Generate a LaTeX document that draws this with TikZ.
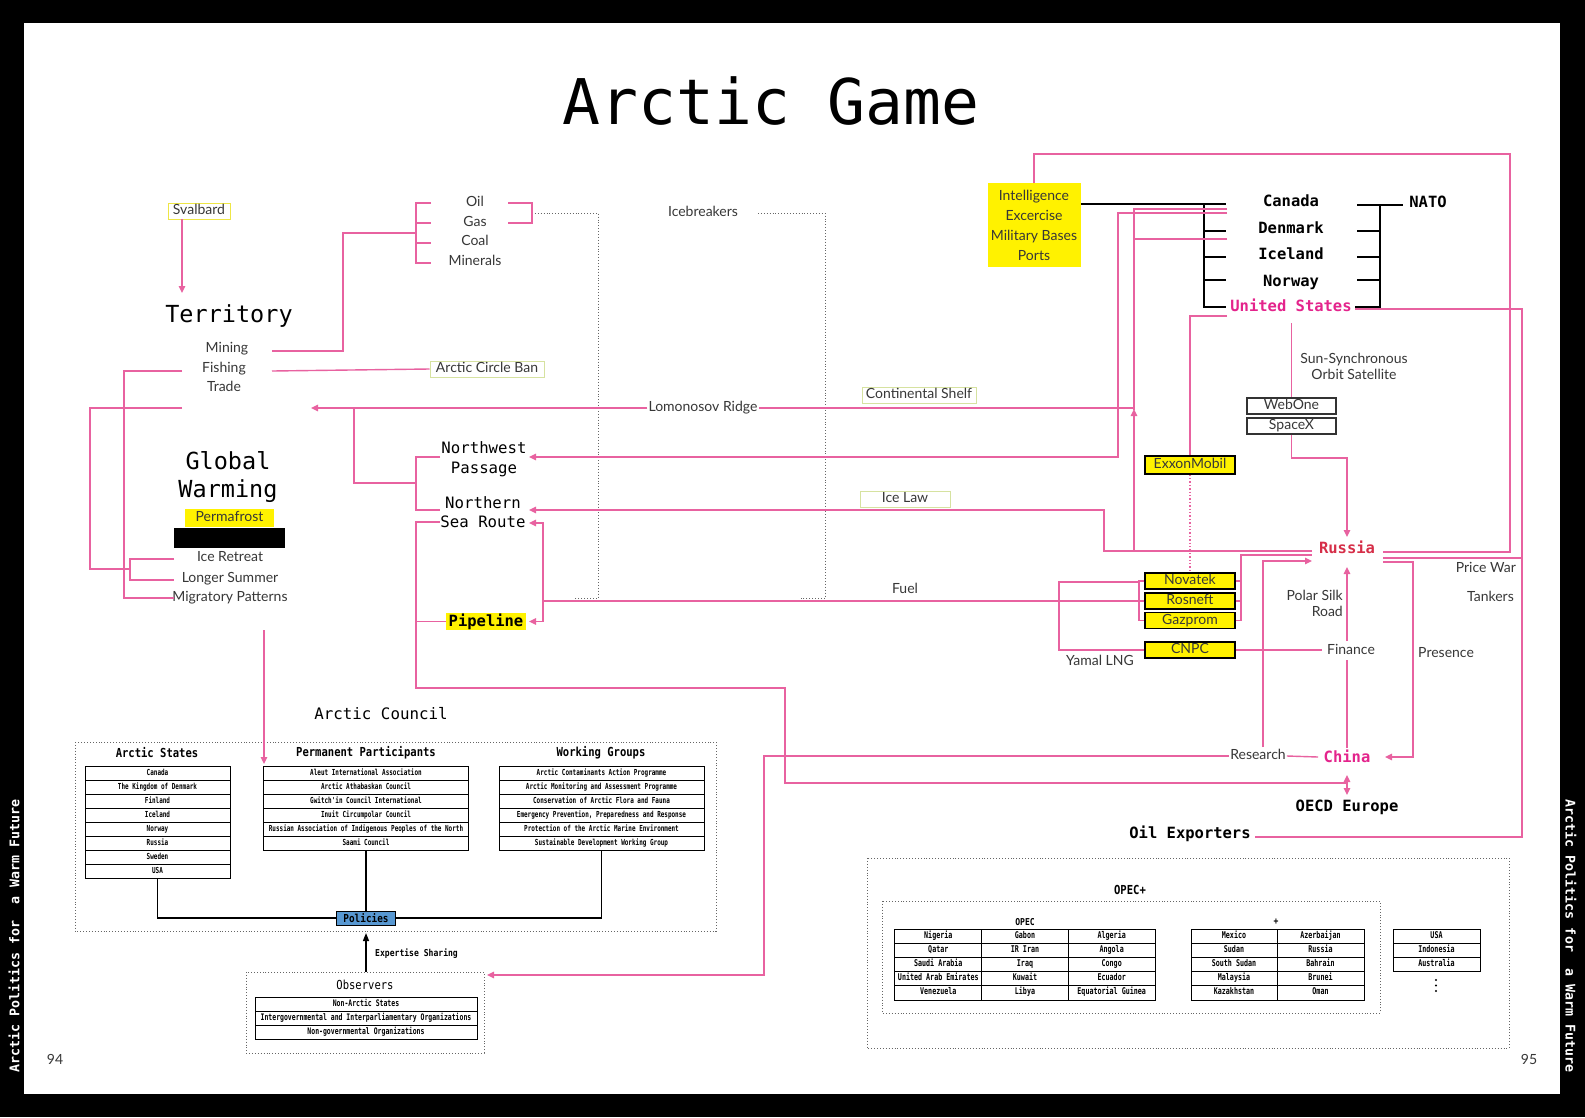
\documentclass[tikz,border=0pt]{standalone}
\usepackage{fontspec}
\newfontfamily\mono{DejaVu Sans Mono}
\newfontfamily\cmono[FakeStretch=0.72]{DejaVu Sans Mono}
\newfontfamily\hmono[FakeStretch=0.85]{DejaVu Sans Mono}
\newfontfamily\lato{Lato}
\usetikzlibrary{arrows.meta}
\definecolor{pk}{RGB}{232,98,160}
\definecolor{ylw}{RGB}{255,242,0}
\definecolor{ybord}{RGB}{238,230,70}
\definecolor{gbord}{RGB}{214,226,160}
\definecolor{txt}{RGB}{55,55,55}
\definecolor{rus}{RGB}{214,46,72}
\definecolor{mag}{RGB}{228,36,140}
\definecolor{pol}{RGB}{88,152,210}
\tikzset{
  pl/.style={draw=pk,line width=1.4pt},
  tipp/.style={-{Triangle[length=7pt,width=6.5pt]}},
  blk/.style={draw=black,line width=1.4pt},
  dotl/.style={draw=gray!80!black,dotted,line width=0.9pt},
  lbl/.style={font=\lato\fontsize{14}{16}\selectfont,text=txt,inner sep=1pt,text height=10.5,text depth=3.5},
  lblm/.style={font=\lato\fontsize{14}{16}\selectfont,text=txt,inner sep=1pt},
  cty/.style={font=\mono\bfseries\fontsize{15.5}{18}\selectfont,inner sep=1pt,text height=11.5,text depth=3},
  bigtxt/.style={font=\mono\fontsize{23.5}{28}\selectfont,align=center,inner sep=0pt},
  ybox/.style={lbl,fill=ylw,draw=black,line width=1.3pt,minimum width=90,minimum height=16,inner sep=0pt},
  tagbox/.style={lbl,draw=gbord,line width=1pt,minimum height=16,inner sep=0pt},
  wbox/.style={lbl,draw=black!80,line width=1.4pt,minimum width=89,minimum height=16,inner sep=0pt},
  tcell/.style={draw,line width=1pt,minimum height=14,inner sep=0pt,text height=6,text depth=2,font=\cmono\bfseries\fontsize{8.3}{9}\selectfont},
  ocell/.style={tcell,minimum height=14.2,font=\cmono\bfseries\fontsize{9.3}{10}\selectfont},
  hdr/.style={font=\hmono\bfseries\fontsize{12.4}{14}\selectfont,inner sep=0pt},
  smalltxt/.style={font=\hmono\bfseries\fontsize{9.5}{11}\selectfont,inner sep=0pt},
  dbox/.style={draw=gray!80!black,dotted,line width=0.9pt},
  sidetxt/.style={font=\mono\bfseries\fontsize{13.3}{15}\selectfont,text=white}
}
\begin{document}
\begin{tikzpicture}[x=1pt,y=-1pt]
\useasboundingbox (0,0) rectangle (1585,1117);
\fill[black] (0,0) rectangle (1585,1117);
\fill[white] (24,23) rectangle (1560,1094);

% ---------- title and side texts
\node[font=\mono\fontsize{63}{70}\selectfont,inner sep=0] (title) at (771,101) {Arctic Game};
\node[sidetxt,rotate=90] (sideL) at (14,936) {Arctic Politics for\ \ a Warm Future};
\node[sidetxt,rotate=-90] (sideR) at (1571,936) {Arctic Politics for\ \ a Warm Future};
\node[lbl] (p94) at (55,1061) {94};
\node[lbl] (p95) at (1529,1061) {95};

% ---------- left column
\node[lbl,draw=ybord,line width=1pt,minimum width=62,minimum height=16,inner sep=0] (svalbard) at (199,211) {Svalbard};
\node[bigtxt] (territory) at (229,316) {Territory};
\node[lbl] (mining) at (227,349) {Mining};
\node[lbl] (fishing) at (224,369) {Fishing};
\node[lbl] (trade) at (224,388) {Trade};
\node[bigtxt] (gw) at (228,477) {Global\\Warming};
\node[lbl,fill=ylw,minimum width=89,minimum height=18,inner sep=0] (permafrost) at (229.5,518) {Permafrost};
\node[fill=black,minimum width=111,minimum height=20,inner sep=0] (blackbar) at (229.5,538) {};
\node[lbl] (iceretreat) at (230,558) {Ice Retreat};
\node[lbl] (longersummer) at (230,579) {Longer Summer};
\node[lbl] (migratory) at (230,598) {Migratory Patterns};

\node[lbl] (oil) at (475,203) {Oil};
\node[lbl] (gas) at (475,223) {Gas};
\node[lbl] (coal) at (475,242) {Coal};
\node[lbl] (minerals) at (475,262) {Minerals};
\node[lbl] (icebreakers) at (703,213) {Icebreakers};

\node[tagbox,minimum width=114] (arcticban) at (487,369) {Arctic Circle Ban};
\node[lbl] (lomo) at (703,408) {Lomonosov Ridge};
\node[tagbox,minimum width=114] (contshelf) at (919,395) {Continental Shelf};
\node[tagbox,minimum width=90] (icelaw) at (905,499) {Ice Law};
\node[lbl] (fuel) at (905,590) {Fuel};

\node[font=\mono\fontsize{15.7}{20}\selectfont,align=center,inner sep=0] (nwp) at (484,459) {Northwest\\Passage};
\node[font=\mono\fontsize{15.7}{19}\selectfont,align=center,inner sep=0] (nsr) at (483,512) {Northern\\Sea Route};
\node[fill=ylw,font=\mono\bfseries\fontsize{15.5}{18}\selectfont,minimum width=80,minimum height=17,inner sep=0] (pipeline) at (486,621.5) {Pipeline};

% ---------- right part
\node[fill=ylw,minimum width=93,minimum height=84,inner sep=0,align=center,font=\lato\fontsize{14}{20}\selectfont,text=txt] (intel) at (1034,225) {Intelligence\\Excercise\\Military Bases\\Ports};
\node[cty] (canada) at (1291,202) {Canada};
\node[cty] (denmark) at (1291,229) {Denmark};
\node[cty] (iceland) at (1291,255) {Iceland};
\node[cty] (norway) at (1291,282) {Norway};
\node[cty,text=mag] (us) at (1291,307) {United States};
\node[cty] (nato) at (1428,203) {NATO};

\node[lblm,align=center] (sunsync) at (1354,366) {Sun-Synchronous\\Orbit Satellite};
\node[wbox] (webone) at (1291.5,406) {WebOne};
\node[wbox] (spacex) at (1291.5,426) {SpaceX};
\node[ybox,minimum height=18] (exxon) at (1190,465) {ExxonMobil};
\node[ybox] (novatek) at (1190,581) {Novatek};
\node[ybox] (rosneft) at (1190,601) {Rosneft};
\node[ybox] (gazprom) at (1190,620.5) {Gazprom};
\node[ybox] (cnpc) at (1190,650) {CNPC};
\node[lbl] (yamal) at (1100,662) {Yamal LNG};

\node[cty,text=rus] (russia) at (1347,549) {Russia};
\node[cty,text=mag] (china) at (1347,758) {China};
\node[cty] (oecd) at (1347,807) {OECD Europe};
\node[cty] (oilexp) at (1190,834) {Oil Exporters};
\node[lbl,anchor=east] (pricewar) at (1517,569) {Price War};
\node[lbl,anchor=east] (tankers) at (1515,598) {Tankers};
\node[lblm,anchor=east,align=right] (polarsilk) at (1344,603) {Polar Silk\\Road};
\node[lbl] (finance) at (1351,651) {Finance};
\node[lbl,anchor=west] (presence) at (1417,654) {Presence};
\node[lbl] (research) at (1258,756) {Research};

% ---------- Arctic Council
\node[font=\mono\fontsize{15.8}{18}\selectfont,inner sep=0] (council) at (381,714) {Arctic Council};
\draw[dbox] (75,742) rectangle (716,931);
\node[hdr] (hAS) at (157,753) {Arctic States};
\node[hdr] (hPP) at (366,753) {Permanent Participants};
\node[hdr] (hWG) at (601,753) {Working Groups};
\foreach \t [count=\i from 0] in {Canada,The Kingdom of Denmark,Finland,Iceland,Norway,Russia,Sweden,USA}
  \node[tcell,minimum width=145] (as\i) at (157.5,{773+14*\i}) {\t};
\foreach \t [count=\i from 0] in {Aleut International Association,Arctic Athabaskan Council,Gwitch'in Council International,Inuit Circumpolar Council,Russian Association of Indigenous Peoples of the North,Saami Council}
  \node[tcell,minimum width=205] (pp\i) at (366,{773+14*\i}) {\t};
\foreach \t [count=\i from 0] in {Arctic Contaminants Action Programme,Arctic Monitoring and Assessment Programme,Conservation of Arctic Flora and Fauna,{Emergency Prevention, Preparedness and Response},Protection of the Arctic Marine Environment,Sustainable Development Working Group}
  \node[tcell,minimum width=205] (wg\i) at (601.5,{773+14*\i}) {\t};
\node[fill=pol,draw=black,line width=1pt,minimum width=59,minimum height=14,inner sep=0,font=\hmono\bfseries\fontsize{11}{12}\selectfont] (policies) at (366,918) {Policies};
\draw[blk] (as7.south) |- (policies.west);
\draw[blk] (pp5.south) -- (policies.north);
\draw[blk] (wg5.south) |- (policies.east);

% ---------- Observers
\draw[dbox] (246,972) rectangle (484,1053);
\node[hdr,font=\hmono\fontsize{12.4}{14}\selectfont] (obs) at (365,985) {Observers};
\foreach \t [count=\i from 0] in {Non-Arctic States,Intergovernmental and Interparliamentary Organizations,Non-governmental Organizations}
  \node[tcell,minimum width=222,font=\cmono\bfseries\fontsize{9}{10}\selectfont] (ob\i) at (366,{1004+14*\i}) {\t};
\node[smalltxt,anchor=west] (expert) at (375,954) {Expertise Sharing};
\draw[blk,-{Triangle[length=8pt,width=6pt]}] (366,972) -- (366,933);

% ---------- Oil exporters
\draw[dbox] (867,858) rectangle (1509,1048);
\node[hdr] (opecplus) at (1130,890) {OPEC+};
\draw[dbox] (882,901) rectangle (1380,1013);
\node[smalltxt] (opec) at (1025,922) {OPEC};
\node[smalltxt] (plus) at (1276,922) {+};
\foreach \a/\b/\c [count=\i from 0] in {Nigeria/Gabon/Algeria,Qatar/IR Iran/Angola,Saudi Arabia/Iraq/Congo,United Arab Emirates/Kuwait/Ecuador,Venezuela/Libya/Equatorial Guinea}{
  \node[ocell,minimum width=86.7] (opa\i) at (938.3,{936.1+14.2*\i}) {\a};
  \node[ocell,minimum width=86.7] (opb\i) at (1025,{936.1+14.2*\i}) {\b};
  \node[ocell,minimum width=86.7] (opc\i) at (1111.7,{936.1+14.2*\i}) {\c};
}
\foreach \a/\b [count=\i from 0] in {Mexico/Azerbaijan,Sudan/Russia,South Sudan/Bahrain,Malaysia/Brunei,Kazakhstan/Oman}{
  \node[ocell,minimum width=86] (pla\i) at (1234,{936.1+14.2*\i}) {\a};
  \node[ocell,minimum width=87] (plb\i) at (1320.5,{936.1+14.2*\i}) {\b};
}
\foreach \a [count=\i from 0] in {USA,Indonesia,Australia}
  \node[ocell,minimum width=87] (ot\i) at (1436.5,{936.1+14.3*\i}) {\a};
\foreach \yy in {980,985.5,991} \fill[black] (1436,\yy) circle (1.2pt);

% ---------- dotted connectors
\draw[dotl] (532,213) -| (598,598) -- (574,598);
\draw[dotl] (574,457) -- (598,457);
\draw[dotl] (574,509) -- (598,509);
\draw[dotl] (758,213) -| (825,598) -- (801,598);
\draw[dotl] (801,457) -- (825,457);
\draw[dotl] (801,509) -- (825,509);

% ---------- black connectors (NATO)
\draw[blk] (1081,204) -- (1226,204);
\draw[blk] (1204,204) -- (1204,307) -- (1226,307);
\foreach \yy in {231,257,280} \draw[blk] (1204,\yy) -- (1226,\yy);
\draw[blk] (1357,205) -- (1403,205);
\draw[blk] (1380,205) -- (1380,307) -- (1355,307);
\foreach \yy in {231,257,280} \draw[blk] (1357,\yy) -- (1380,\yy);

% ---------- pink connectors
\draw[pl,tipp] (182,219) -- (182,293);
\draw[pl] (272,351) -| (343,233) -- (416,233);
\draw[pl] (431,203) -| (416,263) -- (431,263);
\draw[pl] (416,223) -- (431,223);
\draw[pl] (416,243) -- (431,243);
\draw[pl] (508,203) -| (532,223) -- (508,223);
\draw[pl] (272,371) -- (arcticban.west);
\draw[pl] (182,371) -| (124,598) -- (174,598);
\draw[pl,tipp] (lomo.west) -- (311,408);
\draw[pl] (1134,408) -- (lomo.east);
\draw[pl] (354,408) |- (416,483);
\draw[pl] (440,457) -| (416,510) -- (440,510);
\draw[pl] (182,408) -| (90,569) -- (130,569);
\draw[pl] (174,559) -| (130,580) -- (174,580);
\draw[pl,tipp] (1227,213) -| (1118,457) -- (529,457);
\draw[pl] (1227,209) -| (1134,410);
\draw[pl] (1227,239) -- (1134,239);
\draw[pl,tipp] (1134,551) -- (1134,409);
\draw[pl,tipp] (1312,551) -| (1104,510) -- (529,510);
\draw[pl] (1227,316) -| (exxon.north);
\draw[draw=pk,line width=1.4pt,dotted] (exxon.south) -- (novatek.north);
\draw[pl] (1291.5,323) -- (webone.north);
\draw[pl,tipp] (spacex.south) |- (1347,458) -- (1347,537);
\draw[pl] (novatek.east) -- (1241,581);
\draw[pl] (rosneft.east) -- (1241,601);
\draw[pl] (gazprom.east) -- (1241,620.5) -- (1241,555) -- (1312,555);
\draw[pl] (novatek.west) -- (1139,581) -- (1139,620.5) -- (gazprom.west);
\draw[pl] (1139,601) -- (rosneft.west);
\draw[pl] (cnpc.west) -- (1059,650) |- (1139,582);
\draw[pl] (rosneft.west) -- (543,601);
\draw[pl,tipp] (543,601) |- (529,523);
\draw[pl,tipp] (543,601) |- (529,621.5);
\draw[pl] (440,522) -| (416,688) -| (785,783) -- (1347,783);
\draw[pl] (416,621.5) -- (pipeline.west);
\draw[pl,{Triangle[length=7pt,width=6.5pt]}-{Triangle[length=7pt,width=6.5pt]}] (1347,775) -- (1347,795);
\draw[pl] (1347,748) -- (1347,660);
\draw[pl,tipp] (1347,641) -- (1347,567);
\draw[pl] (cnpc.east) -- (1322,650);
\draw[pl] (1318,757) -- (research.east);
\draw[pl,tipp] (research.west) -| (764,975) -- (487,975);
\draw[pl,tipp] (1263,747) |- (1312,561);
\draw[pl] (1383,552) -| (1510,154) -| (intel.north);
\draw[pl] (1383,558) -- (1522,558);
\draw[pl,tipp] (1383,562) -| (1413,757) -- (1385,757);
\draw[pl] (1355,309) -| (1522,837) -- (1255,837);
\draw[pl,tipp] (264,630) -- (264,764);
\end{tikzpicture}
\end{document}
